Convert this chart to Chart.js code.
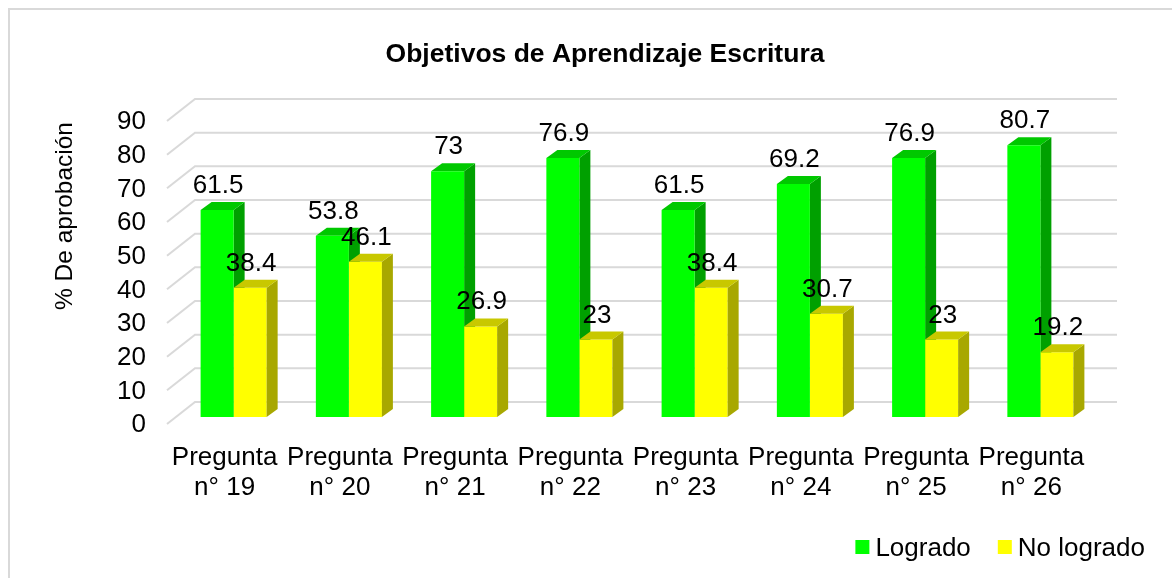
<!DOCTYPE html>
<html><head><meta charset="utf-8">
<script src="https://cdn.jsdelivr.net/npm/chart.js@4.4.0/dist/chart.umd.min.js"></script>
<style>html,body{margin:0;padding:0;background:#fff;overflow:hidden}#wrap{width:1172px;height:578px;position:relative}</style>
</head><body><div id="wrap"><canvas id="c"></canvas></div>
<script>
const categories = [['Pregunta','n° 19'],['Pregunta','n° 20'],['Pregunta','n° 21'],['Pregunta','n° 22'],['Pregunta','n° 23'],['Pregunta','n° 24'],['Pregunta','n° 25'],['Pregunta','n° 26']];
const logrado = [61.5, 53.8, 73, 76.9, 61.5, 69.2, 76.9, 80.7];
const noLogrado = [38.4, 46.1, 26.9, 23, 38.4, 30.7, 23, 19.2];
const yTicks = [0, 10, 20, 30, 40, 50, 60, 70, 80, 90];
const seriesNames = ['Logrado', 'No logrado'];
const chartTitle = 'Objetivos de Aprendizaje Escritura';
const yTitle = '% De aprobación';

const FONT = "'Liberation Sans', Arial, sans-serif";
const BACK = {dx: 19, dy: -15}, FRONT = {dx: -9, dy: 7}, DEPTH = {dx: 11, dy: -8};
const SHADES = [{front: '#00ff00', top: '#00c800', side: '#00a000'}, {front: '#ffff00', top: '#c8c800', side: '#a8a800'}];

function drawFaces(ctx, bar, col) {
  const w = bar.width, l = bar.x - w / 2, r = bar.x + w / 2, t = bar.y, b = bar.base;
  ctx.fillStyle = col.side;
  ctx.beginPath(); ctx.moveTo(r, t); ctx.lineTo(r + DEPTH.dx, t + DEPTH.dy); ctx.lineTo(r + DEPTH.dx, b + DEPTH.dy); ctx.lineTo(r, b); ctx.closePath(); ctx.fill();
  ctx.fillStyle = col.top;
  ctx.beginPath(); ctx.moveTo(l, t); ctx.lineTo(r, t); ctx.lineTo(r + DEPTH.dx, t + DEPTH.dy); ctx.lineTo(l + DEPTH.dx, t + DEPTH.dy); ctx.closePath(); ctx.fill();
}

const look3d = {
  id: 'look3d',
  beforeDraw(chart) {
    const ctx = chart.ctx;
    ctx.save();
    ctx.fillStyle = '#fff'; ctx.fillRect(0, 0, chart.width, chart.height);
    ctx.strokeStyle = '#d9d9d9'; ctx.lineWidth = 2;
    ctx.strokeRect(9, 9, chart.width + 20, chart.height + 20);
    ctx.restore();
  },
  beforeDatasetsDraw(chart) {
    const ctx = chart.ctx, ys = chart.scales.y, a = chart.chartArea;
    ctx.save();
    ctx.strokeStyle = '#d9d9d9'; ctx.lineWidth = 2;
    yTicks.forEach(v => {
      const y = ys.getPixelForValue(v);
      ctx.beginPath();
      ctx.moveTo(a.left + FRONT.dx, y + FRONT.dy);
      ctx.lineTo(a.left + BACK.dx, y + BACK.dy);
      ctx.lineTo(a.right + BACK.dx, y + BACK.dy);
      ctx.stroke();
    });
    chart.getDatasetMeta(0).data.forEach(bar => drawFaces(ctx, bar, SHADES[0]));
    ctx.restore();
  },
  afterDatasetsDraw(chart) {
    const ctx = chart.ctx;
    ctx.save();
    chart.getDatasetMeta(1).data.forEach(bar => drawFaces(ctx, bar, SHADES[1]));
    ctx.fillStyle = '#000'; ctx.font = '26px ' + FONT; ctx.textAlign = 'center'; ctx.textBaseline = 'alphabetic';
    chart.data.datasets.forEach((ds, i) => {
      chart.getDatasetMeta(i).data.forEach((bar, j) => {
        ctx.fillText(String(ds.data[j]), bar.x + 1, bar.y - 17);
      });
    });
    ctx.restore();
  },
  afterDraw(chart) {
    const ctx = chart.ctx;
    ctx.save();
    // chart title
    ctx.fillStyle = '#000'; ctx.font = 'bold 26.5px ' + FONT; ctx.textAlign = 'center'; ctx.textBaseline = 'alphabetic';
    ctx.fillText(chartTitle, 605, 62);
    // y-axis title
    ctx.save();
    ctx.translate(65, 216); ctx.rotate(-Math.PI / 2);
    ctx.font = '24.5px ' + FONT; ctx.textBaseline = 'middle';
    ctx.fillText(yTitle, 0, 0);
    ctx.restore();
    // legend
    ctx.font = '26px ' + FONT; ctx.textAlign = 'left'; ctx.textBaseline = 'alphabetic';
    const box = 14, gap = 6, itemGap = 27;
    const widths = chart.data.datasets.map(ds => ctx.measureText(ds.label).width);
    let total = 0;
    widths.forEach((w, i) => { total += box + gap + w + (i < widths.length - 1 ? itemGap : 0); });
    let x = 1145 - total;
    chart.data.datasets.forEach((ds, i) => {
      ctx.fillStyle = ds.backgroundColor;
      ctx.fillRect(x, 540, box, box);
      ctx.fillStyle = '#000';
      ctx.fillText(ds.label, x + box + gap, 556);
      x += box + gap + widths[i] + itemGap;
    });
    ctx.restore();
  }
};

Chart.defaults.font.family = FONT;
Chart.defaults.color = '#000';

new Chart(document.getElementById('c'), {
  type: 'bar',
  data: {
    labels: categories,
    datasets: [
      {label: seriesNames[0], data: logrado, backgroundColor: SHADES[0].front, categoryPercentage: 0.573, barPercentage: 1},
      {label: seriesNames[1], data: noLogrado, backgroundColor: SHADES[1].front, categoryPercentage: 0.573, barPercentage: 1}
    ]
  },
  options: {
    responsive: true, maintainAspectRatio: false, animation: false,
    layout: {padding: {left: 0, right: 74, top: 114, bottom: 54}},
    plugins: {
      title: {display: false},
      legend: {display: false},
      tooltip: {enabled: false}
    },
    scales: {
      x: {
        grid: {display: false, drawTicks: false}, border: {display: false},
        ticks: {font: {size: 26, lineHeight: 1.15}, padding: 26, labelOffset: -9, maxRotation: 0, minRotation: 0, autoSkip: false},
        afterFit(s) { s.height = 107; }
      },
      y: {
        min: 0, max: 90,
        grid: {display: false, drawTicks: false}, border: {display: false},
        ticks: {stepSize: 10, font: {size: 26}, padding: 30, labelOffset: 8, autoSkip: false},
        afterFit(s) { s.width = 176; }
      }
    }
  },
  plugins: [look3d]
});
</script>
</body></html>
